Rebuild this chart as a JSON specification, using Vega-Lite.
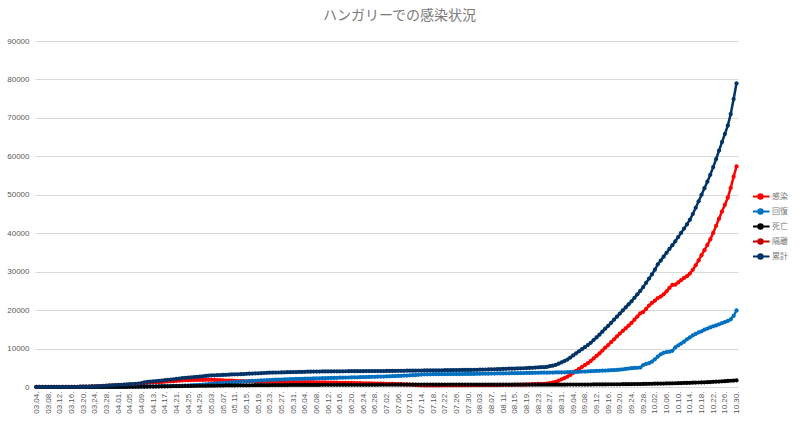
{
  "$schema": "https://vega.github.io/schema/vega-lite/v6.json",
  "width": 703,
  "height": 346,
  "autosize": "none",
  "padding": {"left": 35, "top": 41, "right": 62, "bottom": 35},
  "background": "white",
  "title": {"text": "ハンガリーでの感染状況", "fontSize": 14, "font": "Noto Sans CJK JP", "fontWeight": "normal", "color": "#7a7a7a", "anchor": "middle", "dx": 13, "offset": 14},
  "config": {"view": {"stroke": null}, "font": "Noto Sans CJK JP"},
  "data": {"values": [
    {"t":"03.04.","感染":2,"回復":0,"死亡":0,"累計":2},
    {"t":"03.05.","感染":2,"回復":0,"死亡":0,"累計":2},
    {"t":"03.06.","感染":4,"回復":0,"死亡":0,"累計":4},
    {"t":"03.07.","感染":7,"回復":0,"死亡":0,"累計":7},
    {"t":"03.08.","感染":7,"回復":0,"死亡":0,"累計":7},
    {"t":"03.09.","感染":9,"回復":0,"死亡":0,"累計":9},
    {"t":"03.10.","感染":9,"回復":0,"死亡":0,"累計":9},
    {"t":"03.11.","感染":13,"回復":0,"死亡":0,"累計":13},
    {"t":"03.12.","感染":16,"回復":0,"死亡":0,"累計":16},
    {"t":"03.13.","感染":19,"回復":0,"死亡":0,"累計":19},
    {"t":"03.14.","感染":29,"回復":1,"死亡":0,"累計":30},
    {"t":"03.15.","感染":30,"回復":1,"死亡":1,"累計":32},
    {"t":"03.16.","感染":37,"回復":1,"死亡":1,"累計":39},
    {"t":"03.17.","感染":48,"回復":1,"死亡":1,"累計":50},
    {"t":"03.18.","感染":56,"回復":1,"死亡":1,"累計":58},
    {"t":"03.19.","感染":71,"回復":1,"死亡":1,"累計":73},
    {"t":"03.20.","感染":79,"回復":2,"死亡":4,"累計":85},
    {"t":"03.21.","感染":95,"回復":2,"死亡":6,"累計":103},
    {"t":"03.22.","感染":123,"回復":2,"死亡":6,"累計":131},
    {"t":"03.23.","感染":153,"回復":7,"死亡":7,"累計":167},
    {"t":"03.24.","感染":162,"回復":16,"死亡":9,"累計":187},
    {"t":"03.25.","感染":200,"回復":16,"死亡":10,"累計":226},
    {"t":"03.26.","感染":230,"回復":21,"死亡":10,"累計":261},
    {"t":"03.27.","感染":261,"回復":28,"死亡":11,"累計":300},
    {"t":"03.28.","感染":298,"回復":34,"死亡":11,"累計":343},
    {"t":"03.29.","感染":361,"回復":34,"死亡":13,"累計":408},
    {"t":"03.30.","感染":395,"回復":37,"死亡":15,"累計":447},
    {"t":"03.31.","感染":432,"回復":44,"死亡":16,"累計":492},
    {"t":"04.01.","感染":456,"回復":49,"死亡":20,"累計":525},
    {"t":"04.02.","感染":506,"回復":58,"死亡":21,"累計":585},
    {"t":"04.03.","感染":531,"回復":66,"死亡":26,"累計":623},
    {"t":"04.04.","感染":571,"回復":75,"死亡":32,"累計":678},
    {"t":"04.05.","感染":614,"回復":85,"死亡":34,"累計":733},
    {"t":"04.06.","感染":612,"回復":94,"死亡":38,"累計":744},
    {"t":"04.07.","感染":670,"回復":100,"死亡":47,"累計":817},
    {"t":"04.08.","感染":728,"回復":109,"死亡":58,"累計":895},
    {"t":"04.09.","感染":799,"回復":115,"死亡":66,"累計":980},
    {"t":"04.10.","感染":991,"回復":122,"死亡":77,"累計":1190},
    {"t":"04.11.","感染":1089,"回復":136,"死亡":85,"累計":1310},
    {"t":"04.12.","感染":1164,"回復":147,"死亡":99,"累計":1410},
    {"t":"04.13.","感染":1190,"回復":159,"死亡":109,"累計":1458},
    {"t":"04.14.","感染":1219,"回復":171,"死亡":122,"累計":1512},
    {"t":"04.15.","感染":1260,"回復":185,"死亡":134,"累計":1579},
    {"t":"04.16.","感染":1310,"回復":200,"死亡":142,"累計":1652},
    {"t":"04.17.","感染":1390,"回復":217,"死亡":156,"累計":1763},
    {"t":"04.18.","感染":1432,"回復":230,"死亡":172,"累計":1834},
    {"t":"04.19.","感染":1477,"回復":250,"死亡":189,"累計":1916},
    {"t":"04.20.","感染":1515,"回復":270,"死亡":199,"累計":1984},
    {"t":"04.21.","感染":1595,"回復":290,"死亡":213,"累計":2098},
    {"t":"04.22.","感染":1633,"回復":310,"死亡":225,"累計":2168},
    {"t":"04.23.","感染":1710,"回復":335,"死亡":239,"累計":2284},
    {"t":"04.24.","感染":1761,"回復":360,"死亡":262,"累計":2383},
    {"t":"04.25.","感染":1781,"回復":390,"死亡":272,"累計":2443},
    {"t":"04.26.","感染":1800,"回復":420,"死亡":280,"累計":2500},
    {"t":"04.27.","感染":1832,"回復":460,"死亡":291,"累計":2583},
    {"t":"04.28.","感染":1849,"回復":500,"死亡":300,"累計":2649},
    {"t":"04.29.","感染":1858,"回復":560,"死亡":309,"累計":2727},
    {"t":"04.30.","感染":1843,"回復":620,"死亡":312,"累計":2775},
    {"t":"05.01.","感染":1863,"回復":680,"死亡":320,"累計":2863},
    {"t":"05.02.","感染":1874,"回復":740,"死亡":328,"累計":2942},
    {"t":"05.03.","感染":1858,"回復":800,"死亡":340,"累計":2998},
    {"t":"05.04.","感染":1824,"回復":860,"死亡":351,"累計":3035},
    {"t":"05.05.","感染":1782,"回復":920,"死亡":363,"累計":3065},
    {"t":"05.06.","感染":1758,"回復":980,"死亡":373,"累計":3111},
    {"t":"05.07.","感染":1727,"回復":1040,"死亡":383,"累計":3150},
    {"t":"05.08.","感染":1684,"回復":1100,"死亡":394,"累計":3178},
    {"t":"05.09.","感染":1648,"回復":1160,"死亡":405,"累計":3213},
    {"t":"05.10.","感染":1630,"回復":1220,"死亡":413,"累計":3263},
    {"t":"05.11.","感染":1583,"回復":1280,"死亡":421,"累計":3284},
    {"t":"05.12.","感染":1557,"回復":1330,"死亡":426,"累計":3313},
    {"t":"05.13.","感染":1531,"回復":1380,"死亡":430,"累計":3341},
    {"t":"05.14.","感染":1514,"回復":1430,"死亡":436,"累計":3380},
    {"t":"05.15.","感染":1495,"回復":1480,"死亡":442,"累計":3417},
    {"t":"05.16.","感染":1495,"回復":1530,"死亡":448,"累計":3473},
    {"t":"05.17.","感染":1474,"回復":1580,"死亡":455,"累計":3509},
    {"t":"05.18.","感染":1453,"回復":1620,"死亡":462,"累計":3535},
    {"t":"05.19.","感染":1429,"回復":1660,"死亡":467,"累計":3556},
    {"t":"05.20.","感染":1428,"回復":1700,"死亡":470,"累計":3598},
    {"t":"05.21.","感染":1426,"回復":1740,"死亡":475,"累計":3641},
    {"t":"05.22.","感染":1418,"回復":1780,"死亡":480,"累計":3678},
    {"t":"05.23.","感染":1408,"回復":1820,"死亡":485,"累計":3713},
    {"t":"05.24.","感染":1390,"回復":1860,"死亡":491,"累計":3741},
    {"t":"05.25.","感染":1366,"回復":1890,"死亡":500,"累計":3756},
    {"t":"05.26.","感染":1346,"回復":1920,"死亡":505,"累計":3771},
    {"t":"05.27.","感染":1334,"回復":1950,"死亡":509,"累計":3793},
    {"t":"05.28.","感染":1323,"回復":1980,"死亡":513,"累計":3816},
    {"t":"05.29.","感染":1314,"回復":2010,"死亡":517,"累計":3841},
    {"t":"05.30.","感染":1303,"回復":2040,"死亡":524,"累計":3867},
    {"t":"05.31.","感染":1280,"回復":2070,"死亡":526,"累計":3876},
    {"t":"06.01.","感染":1265,"回復":2100,"死亡":527,"累計":3892},
    {"t":"06.02.","感染":1270,"回復":2121,"死亡":530,"累計":3921},
    {"t":"06.03.","感染":1255,"回復":2141,"死亡":535,"累計":3931},
    {"t":"06.04.","感染":1253,"回復":2162,"死亡":539,"累計":3954},
    {"t":"06.05.","感染":1246,"回復":2183,"死亡":541,"累計":3970},
    {"t":"06.06.","感染":1243,"回復":2203,"死亡":544,"累計":3990},
    {"t":"06.07.","感染":1238,"回復":2224,"死亡":546,"累計":4008},
    {"t":"06.08.","感染":1221,"回復":2245,"死亡":548,"累計":4014},
    {"t":"06.09.","感染":1210,"回復":2266,"死亡":551,"累計":4027},
    {"t":"06.10.","感染":1200,"回復":2286,"死亡":553,"累計":4039},
    {"t":"06.11.","感染":1185,"回復":2307,"死亡":554,"累計":4046},
    {"t":"06.12.","感染":1168,"回復":2328,"死亡":557,"累計":4053},
    {"t":"06.13.","感染":1157,"回復":2348,"死亡":559,"累計":4064},
    {"t":"06.14.","感染":1147,"回復":2369,"死亡":561,"累計":4077},
    {"t":"06.15.","感染":1126,"回復":2390,"死亡":563,"累計":4079},
    {"t":"06.16.","感染":1106,"回復":2410,"死亡":565,"累計":4081},
    {"t":"06.17.","感染":1097,"回復":2431,"死亡":566,"累計":4094},
    {"t":"06.18.","感染":1076,"回復":2452,"死亡":568,"累計":4096},
    {"t":"06.19.","感染":1061,"回復":2472,"死亡":569,"累計":4102},
    {"t":"06.20.","感染":1044,"回復":2493,"死亡":570,"累計":4107},
    {"t":"06.21.","感染":1028,"回復":2514,"死亡":572,"累計":4114},
    {"t":"06.22.","感染":1008,"回復":2534,"死亡":573,"累計":4115},
    {"t":"06.23.","感染":993,"回復":2555,"死亡":575,"累計":4123},
    {"t":"06.24.","感染":974,"回復":2576,"死亡":577,"累計":4127},
    {"t":"06.25.","感染":955,"回復":2597,"死亡":579,"累計":4131},
    {"t":"06.26.","感染":941,"回復":2617,"死亡":580,"累計":4138},
    {"t":"06.27.","感染":923,"回復":2638,"死亡":581,"累計":4142},
    {"t":"06.28.","感染":904,"回復":2659,"死亡":582,"累計":4145},
    {"t":"06.29.","感染":886,"回復":2679,"死亡":584,"累計":4149},
    {"t":"06.30.","感染":870,"回復":2700,"死亡":585,"累計":4155},
    {"t":"07.01.","感染":852,"回復":2720,"死亡":585,"累計":4157},
    {"t":"07.02.","感染":830,"回復":2750,"死亡":586,"累計":4166},
    {"t":"07.03.","感染":806,"回復":2780,"死亡":586,"累計":4172},
    {"t":"07.04.","感染":786,"回復":2810,"死亡":587,"累計":4183},
    {"t":"07.05.","感染":762,"回復":2840,"死亡":587,"累計":4189},
    {"t":"07.06.","感染":739,"回復":2870,"死亡":588,"累計":4197},
    {"t":"07.07.","感染":721,"回復":2900,"死亡":589,"累計":4210},
    {"t":"07.08.","感染":698,"回復":2930,"死亡":589,"累計":4217},
    {"t":"07.09.","感染":679,"回復":2960,"死亡":590,"累計":4229},
    {"t":"07.10.","感染":644,"回復":3000,"死亡":590,"累計":4234},
    {"t":"07.11.","感染":596,"回復":3060,"死亡":591,"累計":4247},
    {"t":"07.12.","感染":545,"回復":3120,"死亡":591,"累計":4256},
    {"t":"07.13.","感染":491,"回復":3180,"死亡":592,"累計":4263},
    {"t":"07.14.","感染":447,"回復":3240,"死亡":592,"累計":4279},
    {"t":"07.15.","感染":405,"回復":3300,"死亡":593,"累計":4298},
    {"t":"07.16.","感染":406,"回復":3306,"死亡":593,"累計":4305},
    {"t":"07.17.","感染":409,"回復":3312,"死亡":594,"累計":4315},
    {"t":"07.18.","感染":421,"回復":3318,"死亡":594,"累計":4333},
    {"t":"07.19.","感染":421,"回復":3324,"死亡":594,"累計":4339},
    {"t":"07.20.","感染":418,"回復":3330,"死亡":595,"累計":4343},
    {"t":"07.21.","感染":420,"回復":3336,"死亡":595,"累計":4351},
    {"t":"07.22.","感染":429,"回復":3342,"死亡":595,"累計":4366},
    {"t":"07.23.","感染":436,"回復":3348,"死亡":596,"累計":4380},
    {"t":"07.24.","感染":439,"回復":3354,"死亡":596,"累計":4389},
    {"t":"07.25.","感染":444,"回復":3360,"死亡":596,"累計":4400},
    {"t":"07.26.","感染":443,"回復":3366,"死亡":596,"累計":4405},
    {"t":"07.27.","感染":451,"回復":3372,"死亡":596,"累計":4419},
    {"t":"07.28.","感染":453,"回復":3378,"死亡":596,"累計":4427},
    {"t":"07.29.","感染":449,"回復":3384,"死亡":596,"累計":4429},
    {"t":"07.30.","感染":449,"回復":3390,"死亡":596,"累計":4435},
    {"t":"07.31.","感染":456,"回復":3396,"死亡":596,"累計":4448},
    {"t":"08.01.","感染":458,"回復":3410,"死亡":597,"累計":4465},
    {"t":"08.02.","感染":463,"回復":3423,"死亡":598,"累計":4484},
    {"t":"08.03.","感染":471,"回復":3436,"死亡":598,"累計":4505},
    {"t":"08.04.","感染":478,"回復":3449,"死亡":599,"累計":4526},
    {"t":"08.05.","感染":492,"回復":3462,"死亡":599,"累計":4553},
    {"t":"08.06.","感染":489,"回復":3475,"死亡":600,"累計":4564},
    {"t":"08.07.","感染":508,"回復":3488,"死亡":601,"累計":4597},
    {"t":"08.08.","感染":509,"回復":3501,"死亡":601,"累計":4611},
    {"t":"08.09.","感染":508,"回復":3514,"死亡":602,"累計":4624},
    {"t":"08.10.","感染":524,"回復":3527,"死亡":602,"累計":4653},
    {"t":"08.11.","感染":553,"回復":3540,"死亡":603,"累計":4696},
    {"t":"08.12.","感染":575,"回復":3553,"死亡":603,"累計":4731},
    {"t":"08.13.","感染":579,"回復":3566,"死亡":604,"累計":4749},
    {"t":"08.14.","感染":580,"回復":3579,"死亡":604,"累計":4763},
    {"t":"08.15.","感染":603,"回復":3592,"死亡":605,"累計":4800},
    {"t":"08.16.","感染":606,"回復":3605,"死亡":605,"累計":4816},
    {"t":"08.17.","感染":629,"回復":3618,"死亡":606,"累計":4853},
    {"t":"08.18.","感染":640,"回復":3631,"死亡":606,"累計":4877},
    {"t":"08.19.","感染":665,"回復":3644,"死亡":607,"累計":4916},
    {"t":"08.20.","感染":688,"回復":3657,"死亡":607,"累計":4952},
    {"t":"08.21.","感染":721,"回復":3670,"死亡":608,"累計":4999},
    {"t":"08.22.","感染":755,"回復":3683,"死亡":608,"累計":5046},
    {"t":"08.23.","感染":788,"回復":3696,"死亡":609,"累計":5093},
    {"t":"08.24.","感染":822,"回復":3709,"死亡":609,"累計":5140},
    {"t":"08.25.","感染":833,"回復":3722,"死亡":610,"累計":5165},
    {"t":"08.26.","感染":868,"回復":3735,"死亡":610,"累計":5213},
    {"t":"08.27.","感染":1041,"回復":3748,"死亡":611,"累計":5400},
    {"t":"08.28.","感染":1178,"回復":3761,"死亡":611,"累計":5550},
    {"t":"08.29.","感染":1364,"回復":3774,"死亡":612,"累計":5750},
    {"t":"08.30.","感染":1650,"回復":3787,"死亡":613,"累計":6050},
    {"t":"08.31.","感染":1986,"回復":3800,"死亡":614,"累計":6400},
    {"t":"09.01.","感染":2314,"回復":3820,"死亡":616,"累計":6750},
    {"t":"09.02.","感染":2682,"回復":3850,"死亡":618,"累計":7150},
    {"t":"09.03.","感染":3150,"回復":3880,"死亡":620,"累計":7650},
    {"t":"09.04.","感染":3677,"回復":3900,"死亡":623,"累計":8200},
    {"t":"09.05.","感染":4194,"回復":3930,"死亡":626,"累計":8750},
    {"t":"09.06.","感染":4711,"回復":3960,"死亡":629,"累計":9300},
    {"t":"09.07.","感染":5218,"回復":4000,"死亡":632,"累計":9850},
    {"t":"09.08.","感染":5684,"回復":4030,"死亡":636,"累計":10350},
    {"t":"09.09.","感染":6200,"回復":4060,"死亡":640,"累計":10900},
    {"t":"09.10.","感染":6752,"回復":4100,"死亡":648,"累計":11500},
    {"t":"09.11.","感染":7417,"回復":4130,"死亡":653,"累計":12200},
    {"t":"09.12.","感染":8072,"回復":4170,"死亡":658,"累計":12900},
    {"t":"09.13.","感染":8736,"回復":4200,"死亡":664,"累計":13600},
    {"t":"09.14.","感染":9490,"回復":4240,"死亡":670,"累計":14400},
    {"t":"09.15.","感染":10243,"回復":4280,"死亡":677,"累計":15200},
    {"t":"09.16.","感染":10896,"回復":4320,"死亡":684,"累計":15900},
    {"t":"09.17.","感染":11649,"回復":4360,"死亡":691,"累計":16700},
    {"t":"09.18.","感染":12402,"回復":4400,"死亡":698,"累計":17500},
    {"t":"09.19.","感染":13145,"回復":4450,"死亡":705,"累計":18300},
    {"t":"09.20.","感染":13888,"回復":4500,"死亡":712,"累計":19100},
    {"t":"09.21.","感染":14580,"回復":4600,"死亡":720,"累計":19900},
    {"t":"09.22.","感染":15272,"回復":4700,"死亡":728,"累計":20700},
    {"t":"09.23.","感染":15963,"回復":4800,"死亡":737,"累計":21500},
    {"t":"09.24.","感染":16654,"回復":4900,"死亡":746,"累計":22300},
    {"t":"09.25.","感染":17495,"回復":4950,"死亡":755,"累計":23200},
    {"t":"09.26.","感染":18335,"回復":5000,"死亡":765,"累計":24100},
    {"t":"09.27.","感染":19174,"回復":5050,"死亡":776,"累計":25000},
    {"t":"09.28.","感染":19510,"回復":5700,"死亡":790,"累計":26000},
    {"t":"09.29.","感染":20295,"回復":6000,"死亡":805,"累計":27100},
    {"t":"09.30.","感染":21180,"回復":6200,"死亡":820,"累計":28200},
    {"t":"10.01.","感染":21865,"回復":6600,"死亡":835,"累計":29300},
    {"t":"10.02.","感染":22450,"回復":7200,"死亡":850,"累計":30500},
    {"t":"10.03.","感染":23134,"回復":7900,"死亡":866,"累計":31900},
    {"t":"10.04.","感染":23518,"回復":8500,"死亡":882,"累計":32900},
    {"t":"10.05.","感染":24100,"回復":8900,"死亡":900,"累計":33900},
    {"t":"10.06.","感染":24882,"回復":9100,"死亡":918,"累計":34900},
    {"t":"10.07.","感染":25763,"回復":9200,"死亡":937,"累計":35900},
    {"t":"10.08.","感染":26544,"回復":9400,"死亡":956,"累計":36900},
    {"t":"10.09.","感染":26624,"回復":10300,"死亡":976,"累計":37900},
    {"t":"10.10.","感染":27202,"回復":10800,"死亡":998,"累計":39000},
    {"t":"10.11.","感染":27780,"回復":11300,"死亡":1020,"累計":40100},
    {"t":"10.12.","感染":28356,"回復":11800,"死亡":1044,"累計":41200},
    {"t":"10.13.","感染":28832,"回復":12400,"死亡":1068,"累計":42300},
    {"t":"10.14.","感染":29507,"回復":12900,"死亡":1093,"累計":43500},
    {"t":"10.15.","感染":30482,"回復":13400,"死亡":1118,"累計":45000},
    {"t":"10.16.","感染":31656,"回復":13800,"死亡":1144,"累計":46600},
    {"t":"10.17.","感染":32930,"回復":14200,"死亡":1170,"累計":48300},
    {"t":"10.18.","感染":34302,"回復":14500,"死亡":1198,"累計":50000},
    {"t":"10.19.","感染":35573,"回復":14900,"死亡":1227,"累計":51700},
    {"t":"10.20.","感染":36944,"回復":15200,"死亡":1256,"累計":53400},
    {"t":"10.21.","感染":38405,"回復":15500,"死亡":1295,"累計":55200},
    {"t":"10.22.","感染":40065,"回復":15800,"死亡":1335,"累計":57200},
    {"t":"10.23.","感染":41922,"回復":16000,"死亡":1378,"累計":59300},
    {"t":"10.24.","感染":43777,"回復":16300,"死亡":1423,"累計":61500},
    {"t":"10.25.","感染":45630,"回復":16600,"死亡":1470,"累計":63700},
    {"t":"10.26.","感染":47380,"回復":16900,"死亡":1520,"累計":65800},
    {"t":"10.27.","感染":49228,"回復":17200,"死亡":1572,"累計":68000},
    {"t":"10.28.","感染":51774,"回復":17600,"死亡":1626,"累計":71000},
    {"t":"10.29.","感染":54718,"回復":18500,"死亡":1682,"累計":74900},
    {"t":"10.30.","感染":57360,"回復":19900,"死亡":1740,"累計":79000}
  ]},
  "transform": [{"fold": ["感染", "回復", "死亡", "累計"], "as": ["系列", "人数"]}],
  "mark": {"type": "line", "strokeWidth": 2.5, "point": {"filled": true, "size": 18}},
  "encoding": {
    "x": {
      "field": "t", "type": "ordinal", "sort": null,
      "scale": {"type": "point", "padding": 0.5},
      "axis": {
        "title": null, "labelAngle": -90, "labelFontSize": 8, "labelColor": "#595959", "labelFont": "Liberation Sans",
        "ticks": false, "domain": true, "domainColor": "#d9d9d9", "labelPadding": 4, "labelOverlap": false, "grid": false,
        "values": ["03.04.","03.08.","03.12.","03.16.","03.20.","03.24.","03.28.","04.01.","04.05.","04.09.","04.13.","04.17.","04.21.","04.25.","04.29.","05.03.","05.07.","05.11.","05.15.","05.19.","05.23.","05.27.","05.31.","06.04.","06.08.","06.12.","06.16.","06.20.","06.24.","06.28.","07.02.","07.06.","07.10.","07.14.","07.18.","07.22.","07.26.","07.30.","08.03.","08.07.","08.11.","08.15.","08.19.","08.23.","08.27.","08.31.","09.04.","09.08.","09.12.","09.16.","09.20.","09.24.","09.28.","10.02.","10.06.","10.10.","10.14.","10.18.","10.22.","10.26.","10.30."]
      }
    },
    "y": {
      "field": "人数", "type": "quantitative",
      "scale": {"domain": [0, 90000], "nice": false},
      "axis": {
        "title": null, "values": [0,10000,20000,30000,40000,50000,60000,70000,80000,90000], "format": "d",
        "labelFontSize": 8, "labelColor": "#595959", "labelFont": "Liberation Sans", "labelPadding": 6,
        "ticks": false, "domain": false, "gridColor": "#d9d9d9", "gridWidth": 1
      }
    },
    "color": {
      "field": "系列", "type": "nominal",
      "scale": {"domain": ["感染", "回復", "死亡", "隔離", "累計"], "range": ["#ff0000", "#0070c0", "#000000", "#c00000", "#003366"]},
      "legend": {
        "title": null, "orient": "none", "legendX": 718, "legendY": 148,
        "labelFontSize": 8, "labelColor": "#7a7a7a", "labelFont": "Noto Sans CJK JP", "labelOffset": 4,
        "symbolType": "M-1.4,0L1.4,0M-0.35,0A0.35,0.35,0,1,1,0.35,0A0.35,0.35,0,1,1,-0.35,0Z",
        "symbolSize": 169, "symbolStrokeWidth": 2, "rowPadding": 0, "clipHeight": 15,
        "encode": {"symbols": {"update": {"fill": {"scale": "color", "field": "value"}, "stroke": {"scale": "color", "field": "value"}}}}
      }
    }
  }
}
